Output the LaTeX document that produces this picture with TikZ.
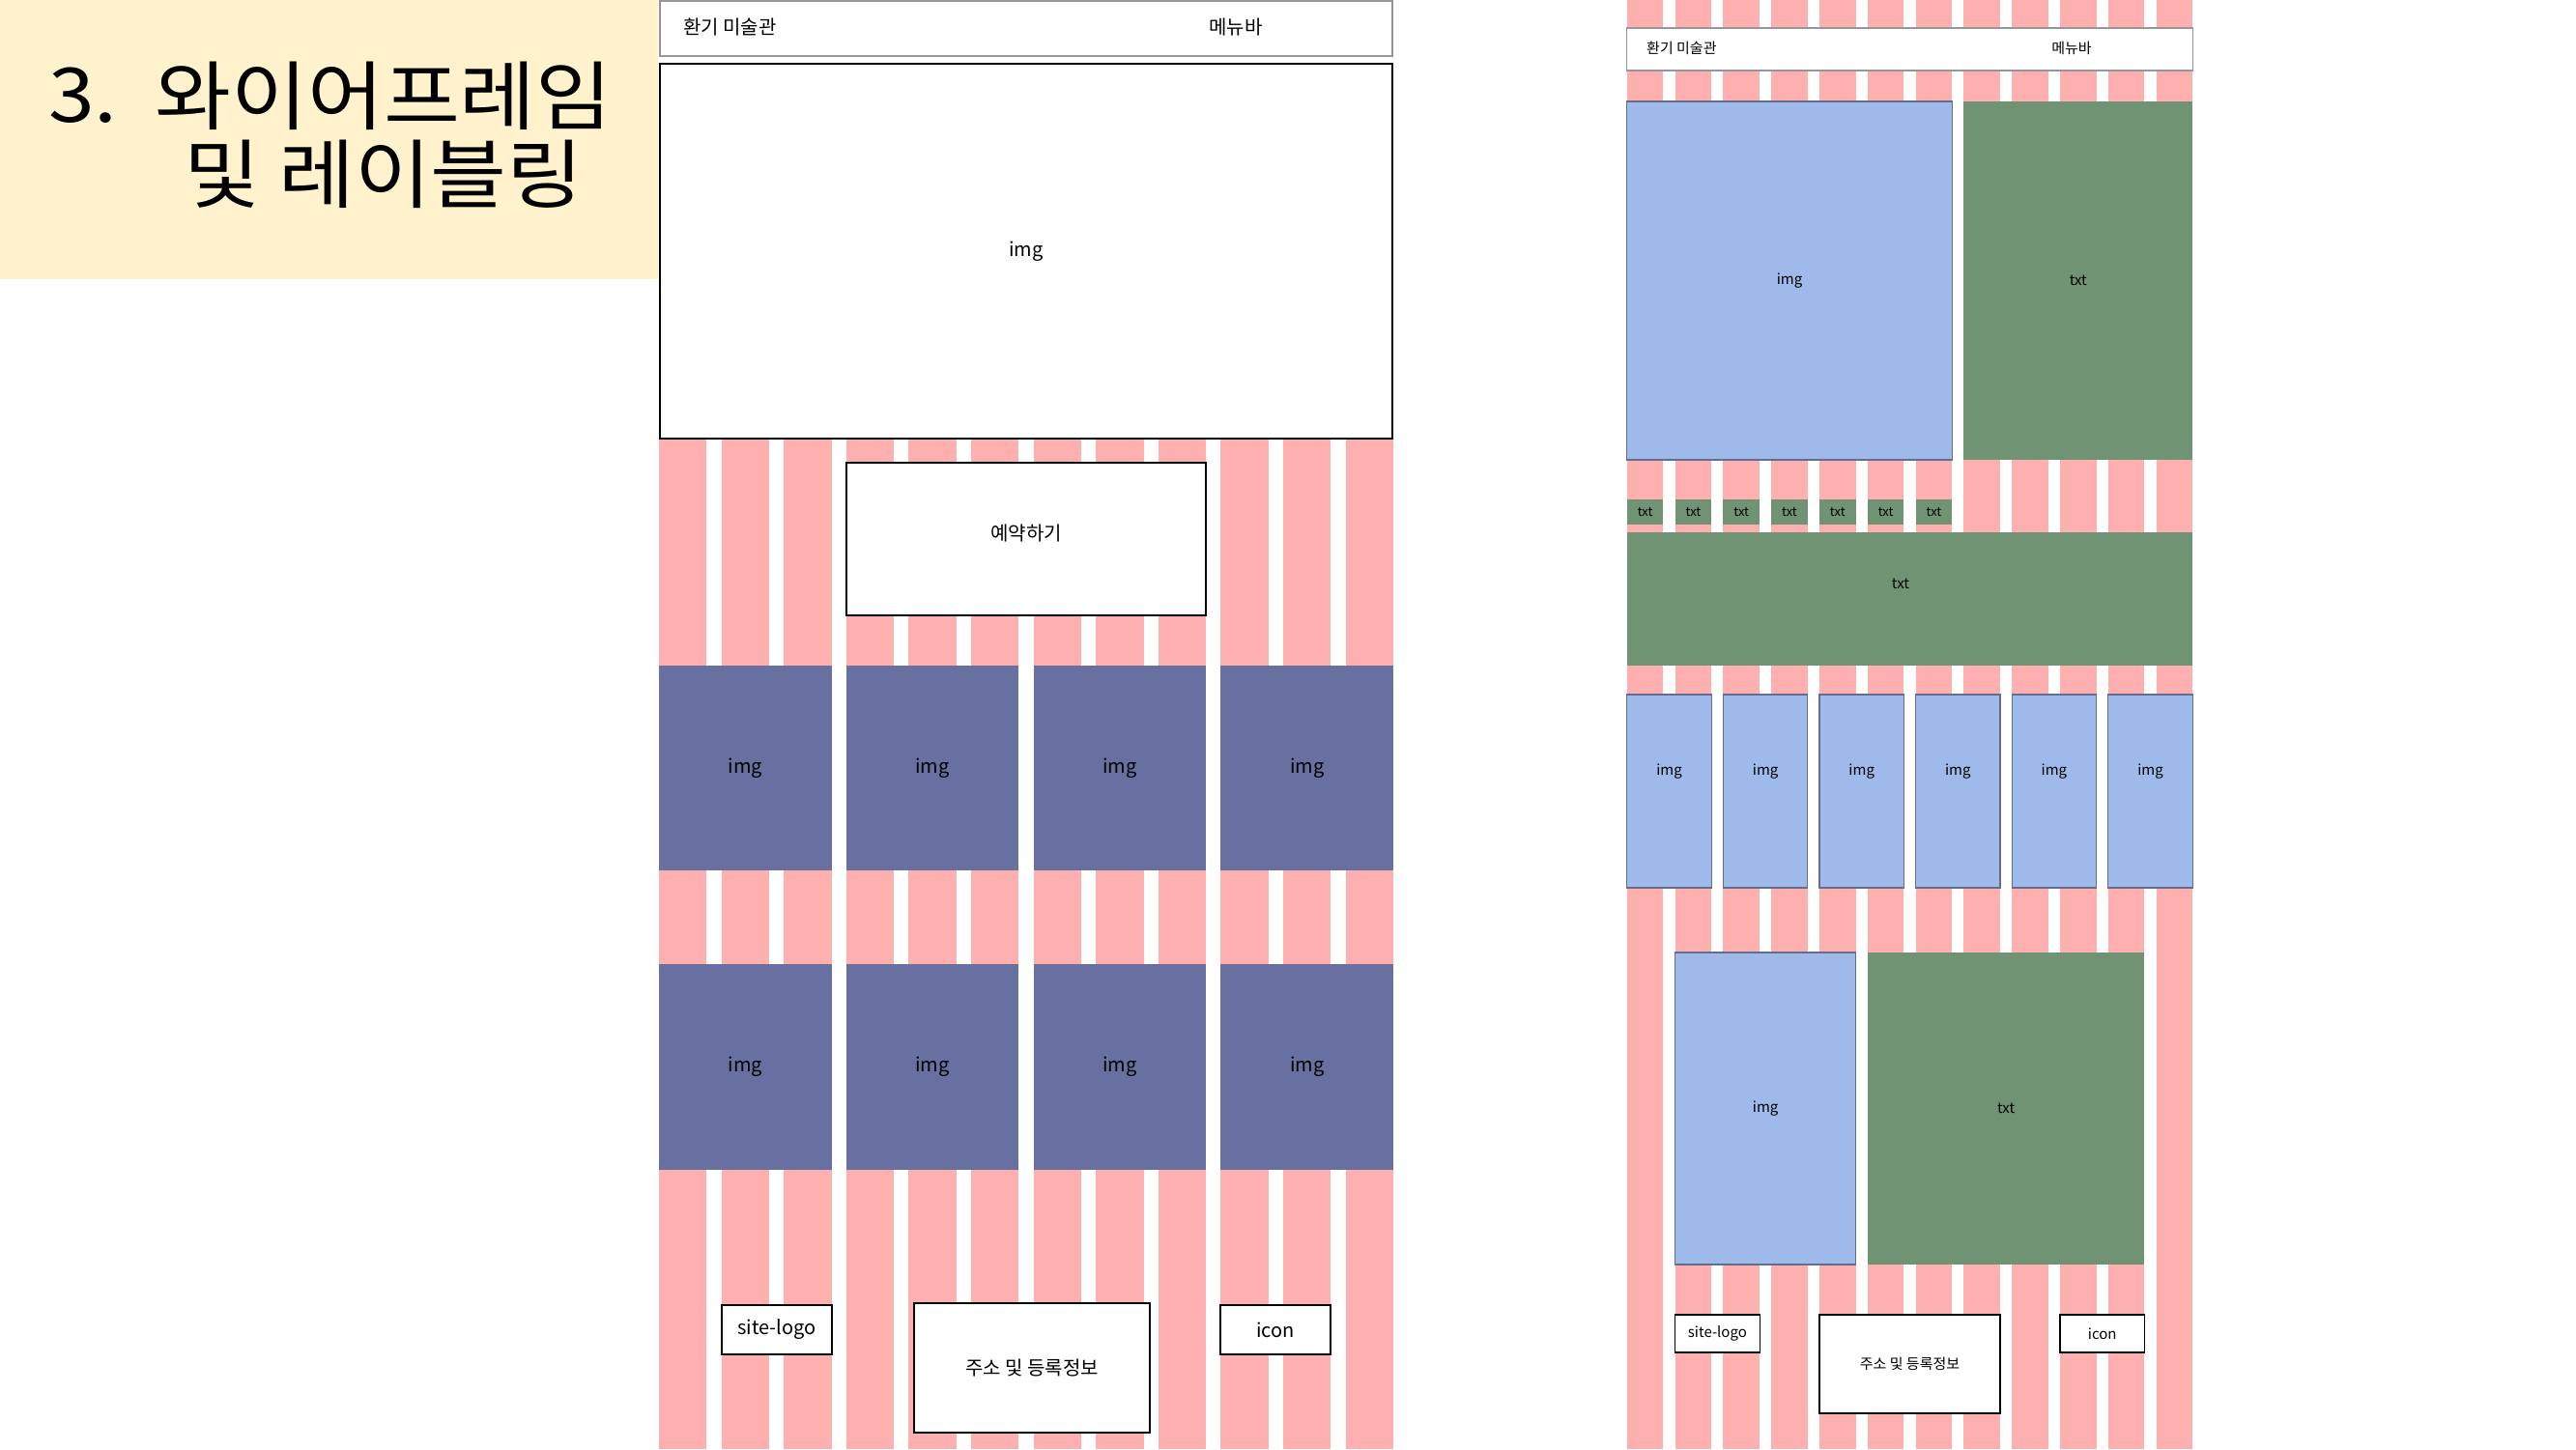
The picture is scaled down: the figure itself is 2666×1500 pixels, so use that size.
\documentclass[tikz,border=0pt]{standalone}
\usepackage{fontspec}
\setmainfont{Noto Sans CJK KR}
\newfontfamily\titlefont[FakeStretch=1.1]{Noto Sans CJK KR}
\definecolor{beige}{RGB}{255,242,204}
\definecolor{stripe}{RGB}{254,176,176}
\definecolor{dblue}{RGB}{103,112,160}
\definecolor{lblue}{RGB}{157,186,234}
\definecolor{sgreen}{RGB}{111,147,115}
\definecolor{hdrline}{RGB}{150,150,150}
\definecolor{bline}{RGB}{100,110,140}
\tikzset{
  nw/.style={anchor=north west, inner sep=0pt, outer sep=0pt},
  lbox/.style={nw, draw=black, line width=1.6pt, fill=white, font=\fontsize{20}{24}\selectfont},
  hbox/.style={nw, draw=hdrline, line width=1.6pt, fill=white},
  dbox/.style={nw, fill=dblue, font=\fontsize{20}{24}\selectfont},
  bbox/.style={nw, draw=bline, line width=1.2pt, fill=lblue, font=\fontsize{15}{18}\selectfont},
  gbox/.style={nw, fill=sgreen, font=\fontsize{15}{18}\selectfont},
  sgbox/.style={nw, fill=sgreen, font=\fontsize{13}{15}\selectfont},
  rbox/.style={nw, draw=black, line width=1.2pt, fill=white, font=\fontsize{15}{18}\selectfont},
  ltxt/.style={inner sep=0pt, font=\fontsize{20}{24}\selectfont},
  rtxt/.style={inner sep=0pt, font=\fontsize{15}{18}\selectfont},
}
\begin{document}
\begin{tikzpicture}[x=1pt,y=-1pt]
\useasboundingbox (0,0) rectangle (2666,1500);
\fill[white] (0,0) rectangle (2666,1500);
% title
\fill[beige] (0,0) rectangle (681,289);
\node[inner sep=0pt, font=\titlefont\fontsize{78}{81}\selectfont, anchor=west] (num) at (50,99) {3.};
\node[inner sep=0pt, font=\titlefont\fontsize{78}{81}\selectfont, align=center] (title) at (397,140) {와이어프레임\\및 레이블링};
% ---------- left wireframe ----------
\foreach \i in {0,...,11} \fill[stripe] ({682+\i*64.6},454) rectangle ++(49.3,1046);
\node[hbox, minimum width=758, minimum height=57] (Lhead) at (683,1) {};
\node[ltxt, anchor=west] (Lname) at (707,28) {환기 미술관};
\node[ltxt] (Lmenu) at (1279,28) {메뉴바};
\node[lbox, minimum width=758, minimum height=388] (Limg) at (683,66) {img};
\node[lbox, minimum width=372, minimum height=158] (Lres) at (876,479) {};
\node[ltxt] (Lrestxt) at (1062,552) {예약하기};
\foreach \j in {0,...,3} {
  \node[dbox, minimum width=178.5, minimum height=212] (La\j) at ({682+193.8*\j},689) {img};
  \node[dbox, minimum width=178.5, minimum height=213] (Lb\j) at ({682+193.8*\j},998) {img};
}
\node[lbox, minimum width=114, minimum height=51] (Llogo) at (747,1351) {site-logo};
\node[lbox, minimum width=244, minimum height=134] (Laddr) at (946,1349) {주소 및 등록정보};
\node[lbox, minimum width=114, minimum height=51] (Licon) at (1263,1351) {icon};
% ---------- right wireframe ----------
\foreach \i in {0,...,11} \fill[stripe] ({1683.8+\i*49.8},0) rectangle ++(37.6,1500);
\node[hbox, line width=1.2pt, minimum width=585.4, minimum height=44] (Rhead) at (1683.8,29) {};
\node[rtxt, anchor=west] (Rname) at (1704,50) {환기 미술관};
\node[rtxt] (Rmenu) at (2144,50) {메뉴바};
\node[bbox, minimum width=336.4, minimum height=371] (Rimg) at (1683.8,105) {img};
\node[gbox, minimum width=236.8, minimum height=371] (Rtxt) at (2032.4,105) {txt};
\foreach \k in {0,...,6} \node[sgbox, minimum width=37.6, minimum height=26] (Rs\k) at ({1683.8+49.8*\k},517) {txt};
\node[gbox, minimum width=585.4, minimum height=138] (Rband) at (1683.8,551) {};
\node[rtxt] (Rbandtxt) at (1967,604) {txt};
\foreach \k in {0,...,5} {
  \node[bbox, minimum width=87.4, minimum height=200] (Rc\k) at ({1683.8+99.6*\k},719) {};
  \node[rtxt] (Rct\k) at ({1727.5+99.6*\k},799) {img};
}
\node[bbox, minimum width=187, minimum height=323] (Rimg2) at (1733.6,986) {img};
\node[gbox, minimum width=286.6, minimum height=323] (Rtxt2) at (1932.8,986) {txt};
\node[rbox, minimum width=87.6, minimum height=39] (Rlogo) at (1733.6,1361) {site-logo};
\node[rbox, minimum width=187, minimum height=102] (Raddr) at (1883,1361) {주소 및 등록정보};
\node[rbox, minimum width=87.4, minimum height=39] (Ricon) at (2132,1361) {icon};
\end{tikzpicture}
\end{document}
